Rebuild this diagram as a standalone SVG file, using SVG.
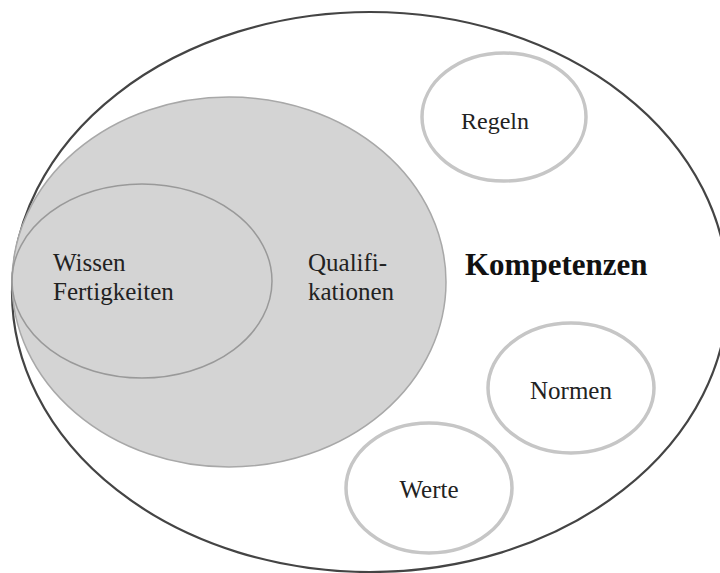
<svg xmlns="http://www.w3.org/2000/svg" width="720" height="573" viewBox="0 0 720 573">
  <style>
    .lbl { font-family: "Liberation Serif", "DejaVu Serif", serif; font-size: 24px; fill: #222; }
    .title { font-family: "Liberation Serif", "DejaVu Serif", serif; font-size: 31px; font-weight: bold; fill: #111; }
    .ring { fill: #fff; stroke: #c6c6c6; stroke-width: 3.5; }
  </style>
  <rect width="720" height="573" fill="#fff"/>

  <!-- Kompetenzen: outer boundary -->
  <g id="kompetenzen">
    <ellipse cx="370" cy="292" rx="358" ry="280" fill="#fff" stroke="#444" stroke-width="2.2"/>
    <text class="title" x="465" y="275">Kompetenzen</text>
  </g>

  <!-- Qualifikationen: shaded area -->
  <g id="qualifikationen">
    <ellipse cx="229" cy="282" rx="217" ry="185" fill="#d4d4d4" stroke="#a8a8a8" stroke-width="1.5"/>
    <text class="lbl" x="308" y="271" style="font-size:25px">Qualifi-</text>
    <text class="lbl" x="308" y="300" style="font-size:25px">kationen</text>
  </g>

  <!-- Wissen / Fertigkeiten: inner area -->
  <g id="wissen">
    <ellipse cx="142" cy="281" rx="130" ry="97" fill="none" stroke="#999" stroke-width="1.5"/>
    <text class="lbl" x="53" y="271" style="font-size:25px">Wissen</text>
    <text class="lbl" x="53" y="300" style="font-size:25px">Fertigkeiten</text>
  </g>

  <g id="regeln">
    <ellipse class="ring" cx="504" cy="117" rx="82" ry="64"/>
    <text class="lbl" x="495" y="129" text-anchor="middle">Regeln</text>
  </g>

  <g id="normen">
    <ellipse class="ring" cx="571" cy="388" rx="83" ry="65"/>
    <text class="lbl" x="571" y="399" text-anchor="middle" style="font-size:25px">Normen</text>
  </g>

  <g id="werte">
    <ellipse class="ring" cx="429" cy="488" rx="83" ry="65"/>
    <text class="lbl" x="429" y="498" text-anchor="middle" style="font-size:25px">Werte</text>
  </g>

  <g id="connectors"/>
</svg>
